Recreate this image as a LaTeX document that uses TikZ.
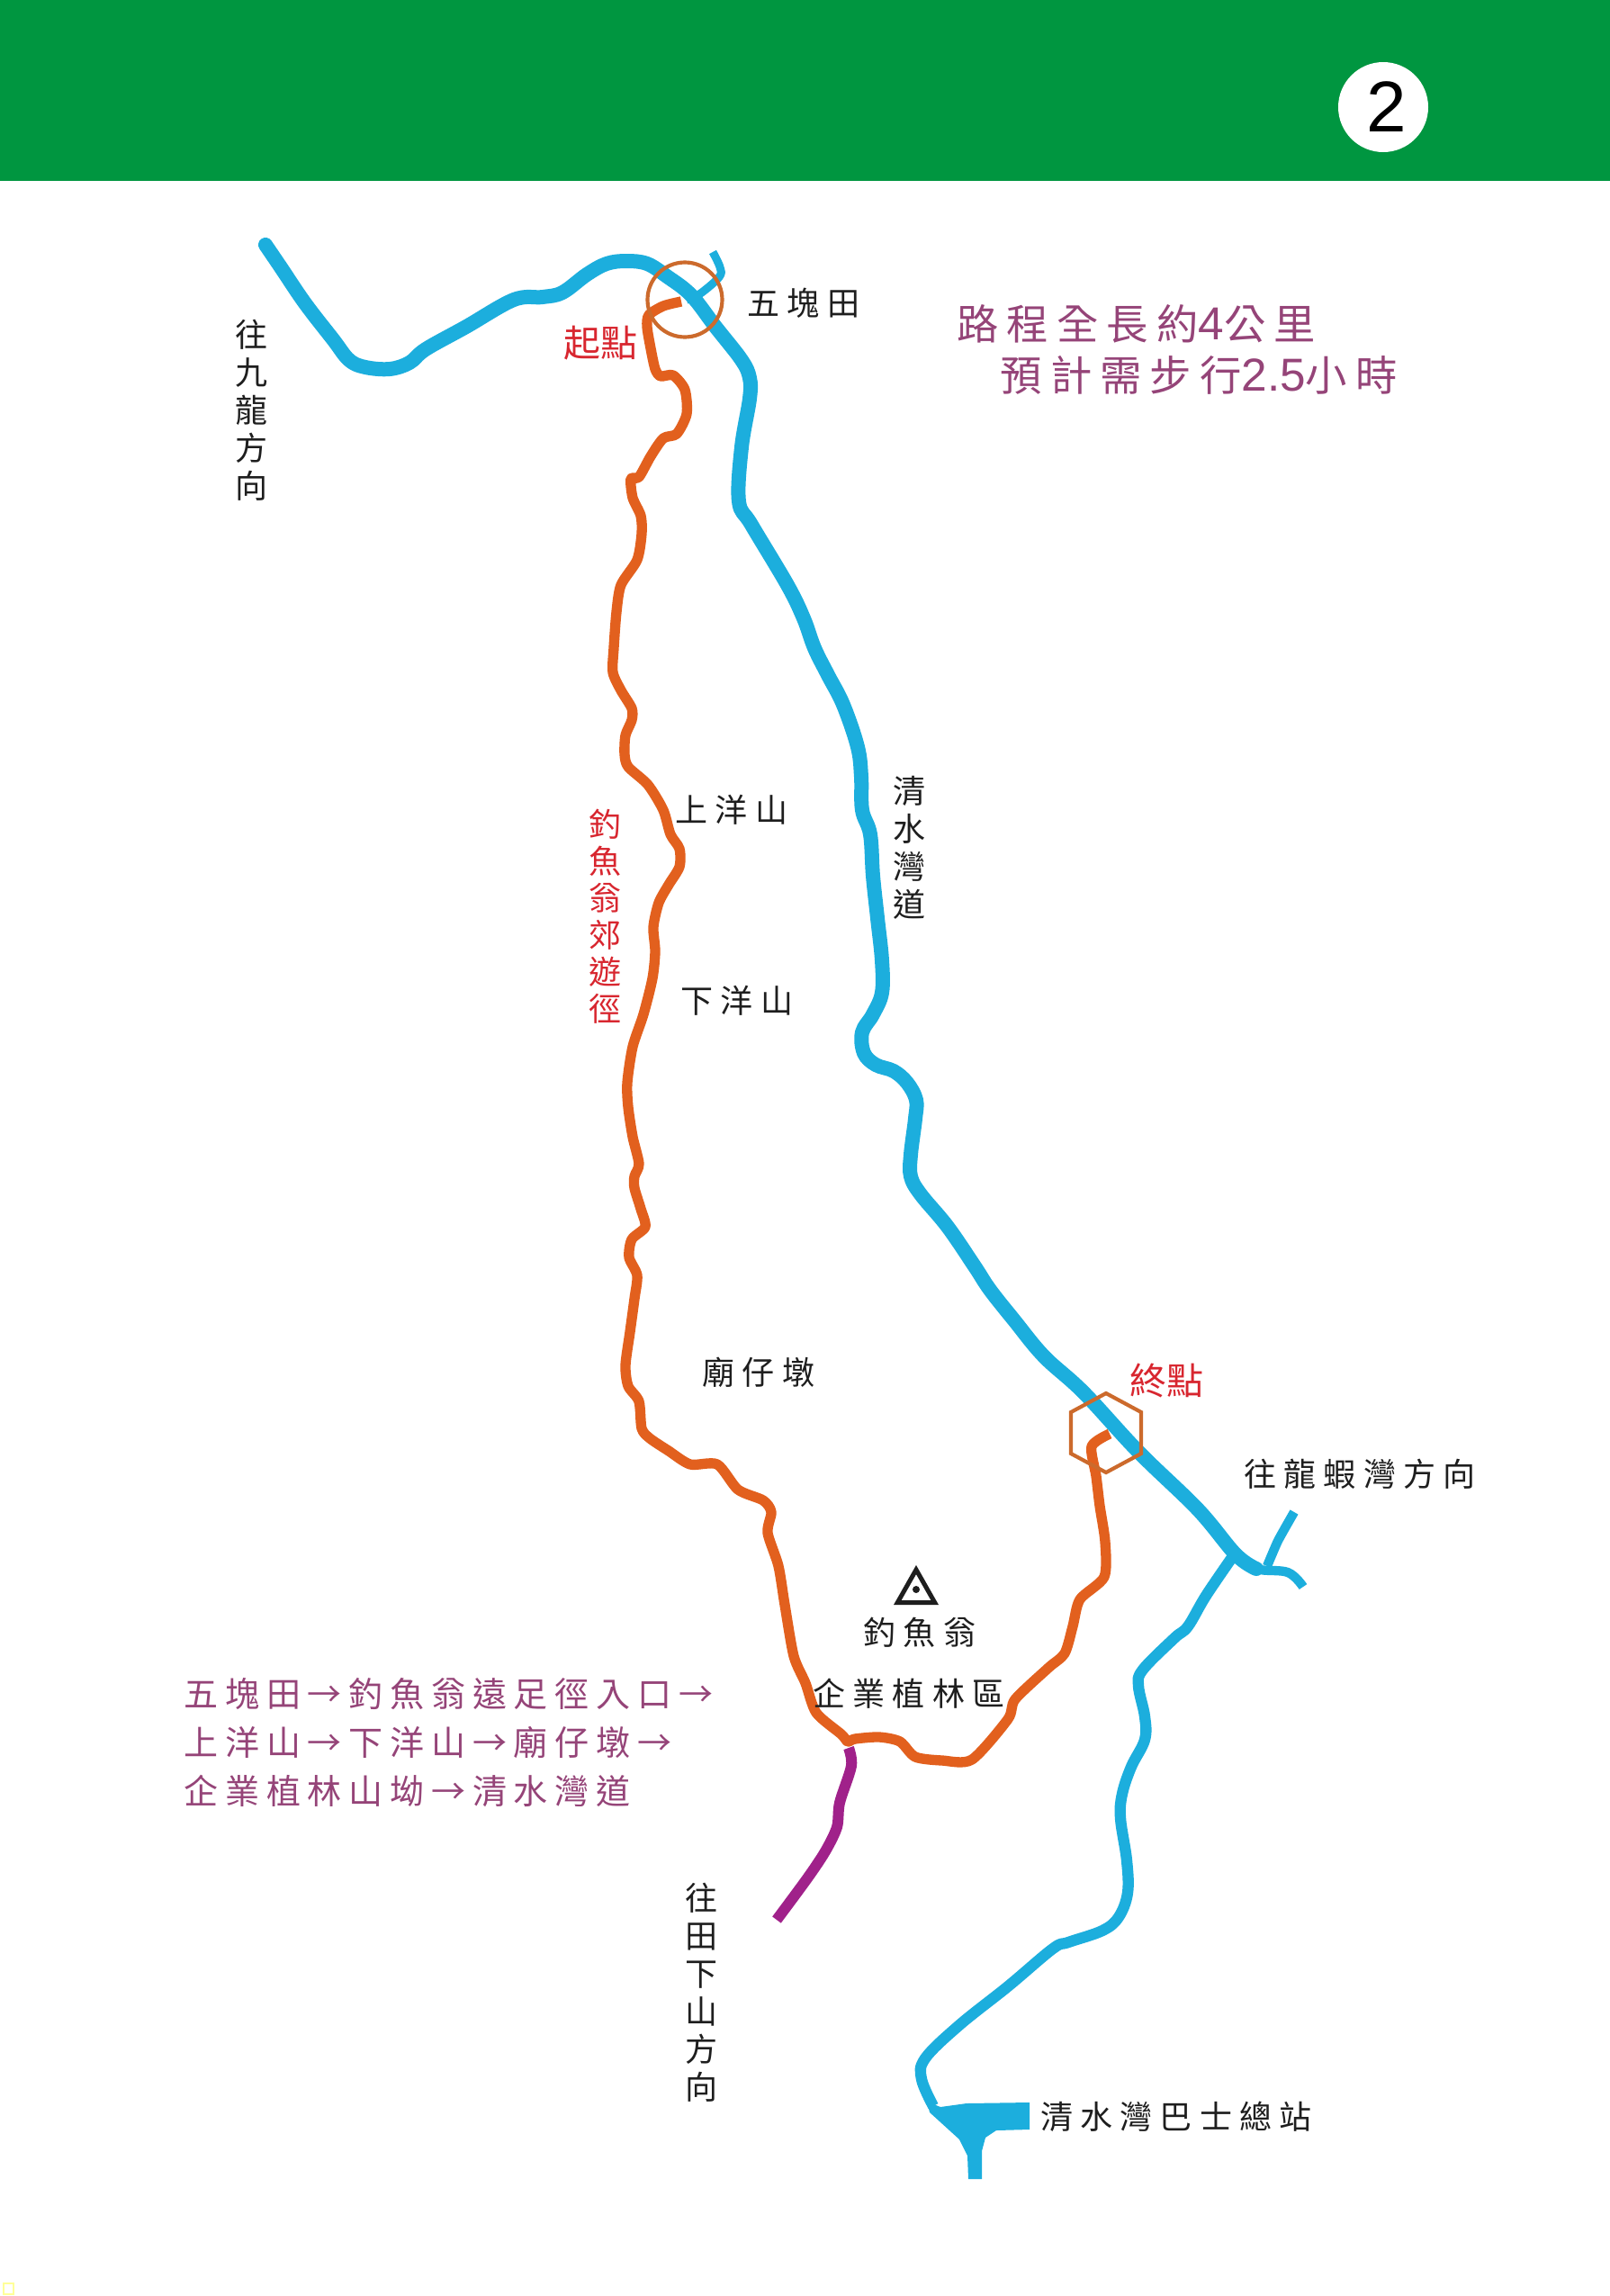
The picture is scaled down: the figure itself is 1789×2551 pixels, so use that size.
\documentclass[tikz,border=0pt]{standalone}
\usepackage{fontspec}
\newfontfamily\cjkplain{Noto Sans CJK TC}
\newfontfamily\cjklab[LetterSpace=23]{Noto Sans CJK TC}
\newfontfamily\cjkroute[LetterSpace=20.5]{Noto Sans CJK TC}
\newfontfamily\cjktop[LetterSpace=19.5]{Noto Sans CJK TC}
\newfontfamily\arialish{Liberation Sans}
\definecolor{headgreen}{HTML}{009640}
\definecolor{roadblue}{HTML}{1CAEDD}
\definecolor{trailorange}{HTML}{E2601E}
\definecolor{linkpurple}{HTML}{A0218A}
\definecolor{markerorange}{HTML}{CC6A2C}
\definecolor{routetext}{HTML}{954478}
\definecolor{redtext}{HTML}{D8262F}
\definecolor{inktext}{HTML}{1E1E1E}
\definecolor{paleyellow}{HTML}{FFFF99}
\tikzset{
  mainroad/.style={draw=roadblue,line width=4.8pt,line cap=round,line join=round},
  sideroad/.style={draw=roadblue,line width=3.7pt,line cap=butt,line join=round},
  branchroad/.style={draw=roadblue,line width=3.1pt,line cap=butt,line join=round},
  trail/.style={draw=trailorange,line width=3.4pt,line cap=butt,line join=round},
  linktrail/.style={draw=linkpurple,line width=3.6pt,line cap=butt,line join=round},
  marker/.style={draw=markerorange,line width=1.25pt},
  lab/.style={text=inktext,inner sep=0pt,font=\fontsize{10.8}{12.6}\selectfont\cjklab},
  vlab/.style={text=inktext,inner sep=0pt,align=center,font=\fontsize{10.8}{12.6}\selectfont\cjkplain},
  redlab/.style={text=redtext,inner sep=0pt,font=\fontsize{12.3}{14}\selectfont\cjkplain},
  vred/.style={text=redtext,inner sep=0pt,align=center,font=\fontsize{10.8}{12.3}\selectfont\cjkplain},
  routelab/.style={text=routetext,inner sep=0pt,anchor=west,font=\fontsize{11.4}{13}\selectfont\cjkroute},
  toplab/.style={text=routetext,inner sep=0pt,anchor=west,font=\fontsize{13.9}{16}\selectfont\cjktop},
}
\newcommand{\bigdigits}[1]{{\fontsize{15.4}{16}\selectfont\arialish #1}}
\begin{document}
\begin{tikzpicture}[x=0.3pt,y=-0.3pt]
\useasboundingbox (0,0) rectangle (1789,2551);
\fill[white] (0,0) rectangle (1789,2551);
% header
\fill[headgreen] (0,0) rectangle (1789,201);
\node[circle,fill=white,minimum size=30pt,inner sep=0pt,font=\fontsize{24}{28}\selectfont\arialish] (badge) at (1537,119) {\hspace*{2pt}2};
% main road
\draw[mainroad] plot[smooth,tension=0.6] coordinates {
 (295,272) (312,297) (339,337) (370,377) (388,400) (406,408) (433,410) (455,403) (473,388)
 (518,363) (571,333) (603,330) (625,325) (652,305) (674,293) (696,290) (719,293) (741,307)
 (768,328) (795,363) (824,400) (833,420) (833,443) (824,497) (821,557) (835,583) (875,650)
 (893,687) (905,720) (920,750) (937,783) (953,830) (957,863) (958,900) (967,927) (970,973)
 (975,1020) (980,1067) (980,1103) (970,1127) (958,1147) (960,1170) (973,1183) (993,1190)
 (1008,1203) (1018,1222) (1017,1243) (1012,1283) (1012,1307) (1023,1327) (1053,1363)
 (1083,1407) (1100,1433) (1127,1467) (1160,1507) (1204,1547) (1265,1613) (1331,1677)
 (1373,1727) (1396,1743)};
\draw[branchroad] plot[smooth,tension=0.6] coordinates {(1373,1727) (1396,1743) (1431,1747) (1448,1763)};
\draw[branchroad] plot[smooth,tension=0.3] coordinates {(1438,1680) (1420,1712) (1408,1740)};
\draw[branchroad,line width=2.7pt] plot[smooth,tension=0.6] coordinates {(792,280) (800,297) (799,308) (777,327) (763,333)};
% lower road
\draw[sideroad] plot[smooth,tension=0.6] coordinates {
 (1370,1729) (1340,1773) (1320,1807) (1305,1820) (1270,1855) (1265,1873) (1272,1907) (1272,1933)
 (1257,1963) (1247,1993) (1245,2020) (1252,2067) (1253,2103) (1243,2130) (1225,2145)
 (1187,2158) (1170,2165) (1120,2207) (1066,2250) (1028,2287) (1024,2310) (1037,2340)};
\fill[roadblue] (1045,2341) -- (1074,2337) -- (1144,2336) -- (1144,2366) -- (1107,2367) -- (1095,2375)
 -- (1091,2390) -- (1091,2421) -- (1076,2421) -- (1075,2395) -- (1066,2377) -- (1033,2347) -- (1030,2335) -- cycle;
% orange trail
\draw[trail] plot[smooth,tension=0.45] coordinates {
 (757,335) (737,340) (721,350) (719,363) (723,387) (728,410) (734,418) (748,417) (761,433)
 (763,460) (752,482) (737,487) (723,507) (710,530) (701,532) (703,553) (712,573) (713,593)
 (708,622) (690,650) (685,680) (682,720) (681,747) (690,767) (702,787) (702,800) (695,817)
 (694,838) (698,852) (720,872) (737,900) (745,927) (755,943) (755,963) (743,983) (732,1003)
 (726,1030) (728,1057) (725,1087) (715,1127) (703,1163) (697,1203) (698,1230) (703,1263)
 (710,1293) (705,1307) (705,1320) (712,1343) (717,1363) (702,1377) (699,1397) (708,1417)
 (705,1443) (700,1480) (695,1517) (698,1540) (710,1557) (713,1587) (722,1598) (743,1612)
 (767,1627) (797,1627) (820,1655) (848,1667) (857,1680) (853,1703) (865,1740) (872,1783)
 (882,1840) (895,1870) (907,1903) (935,1927) (942,1935) (950,1932) (977,1930) (1000,1935)
 (1017,1952) (1047,1956) (1080,1955) (1120,1910) (1128,1888) (1165,1853) (1183,1837)
 (1192,1807) (1200,1777) (1227,1752) (1228,1713) (1222,1673) (1218,1640) (1213,1607) (1233,1593)};
% purple link
\draw[linktrail] plot[smooth,tension=0.5] coordinates {
 (943,1942) (946,1962) (933,2003) (930,2030) (917,2057) (897,2087) (863,2133)};
% start and end markers
\node[marker,circle,minimum size=24.9pt,inner sep=0pt] (startmark) at (761,333) {};
\draw[marker] (1229,1548) -- (1268,1569) -- (1268,1615) -- (1229,1636) -- (1190,1615) -- (1190,1569) -- cycle;
% peak symbol
\draw[inktext,line width=1.5pt,line join=miter] (1018,1744) -- (1038.7,1780.5) -- (997.3,1780.5) -- cycle;
\fill[inktext] (1018,1766) circle (4);
% labels
\node[lab] (wkt) at (893,337) {五塊田};
\node[vlab] (kowloon) at (279,456) {往\\九\\龍\\方\\向};
\node[redlab] (startlab) at (667,381) {起點};
\node[redlab] (endlab) at (1296,1534) {終點};
\node[lab] (lobster) at (1511,1638) {往龍蝦灣方向};
\node[lab] (upper) at (813,900) {上洋山};
\node[lab] (lower) at (819,1112) {下洋山};
\node[vlab] (csw) at (1010,942) {清\\水\\灣\\道};
\node[vred] (trailname) at (672,1018) {釣\\魚\\翁\\郊\\遊\\徑};
\node[lab] (miu) at (843,1525) {廟仔墩};
\node[lab] (peak) at (1022,1814) {釣魚翁};
\node[lab] (forest) at (1010,1882) {企業植林區};
\node[vlab] (tinha) at (779,2214) {往\\田\\下\\山\\方\\向};
\node[lab] (bus) at (1307,2352) {清水灣巴士總站};
\node[routelab] (r1) at (204,1882) {五塊田→釣魚翁遠足徑入口→};
\node[routelab] (r2) at (204,1936) {上洋山→下洋山→廟仔墩→};
\node[routelab] (r3) at (204,1990) {企業植林山坳→清水灣道};
\node[toplab] (t1) at (1063,360) {路程全長約\bigdigits{4}公里};
\node[toplab] (t2) at (1111,417) {預計需步行\bigdigits{2.5}小時};
% tiny mark at the lower left
\draw[paleyellow,line width=0.8pt] (4,2537) rectangle (15,2549);
\end{tikzpicture}
\end{document}
